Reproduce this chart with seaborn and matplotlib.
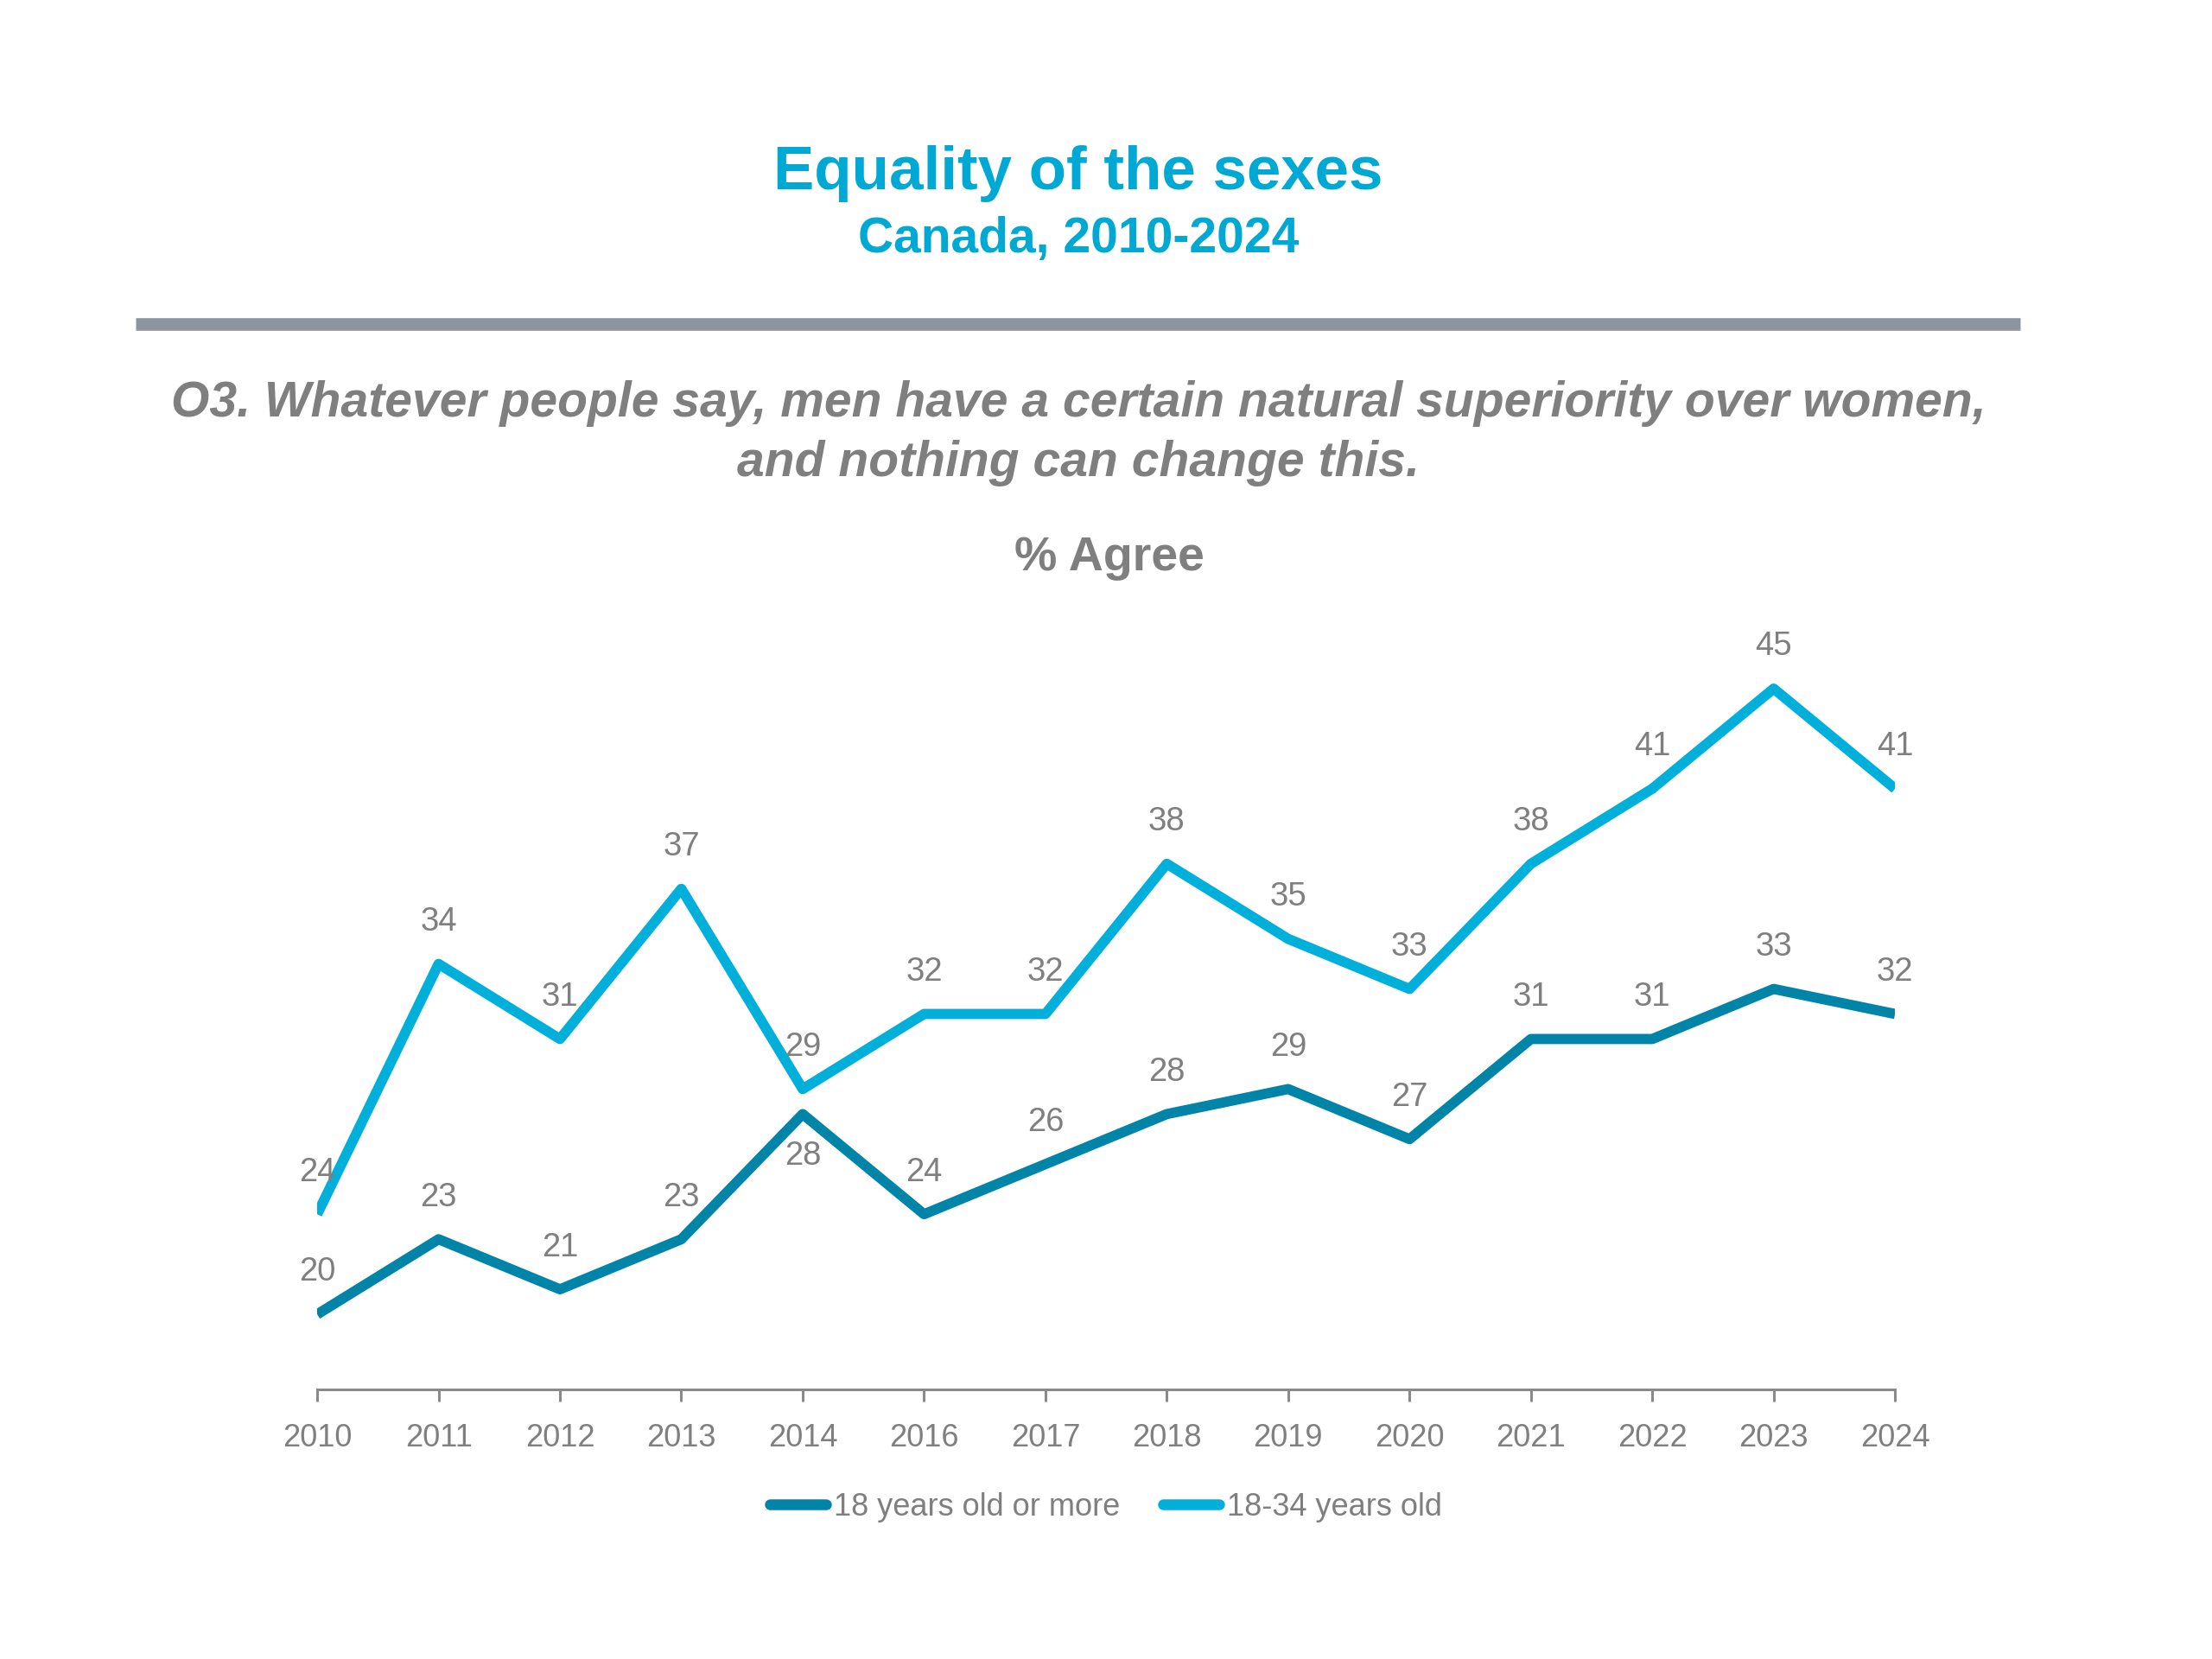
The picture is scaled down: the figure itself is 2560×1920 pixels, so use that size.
import numpy as np
import pandas as pd
import matplotlib
matplotlib.use("Agg")
import matplotlib.pyplot as plt
from matplotlib.lines import Line2D
from matplotlib import font_manager
import seaborn as sns

# ---------------- data ----------------
years = ["2010", "2011", "2012", "2013", "2014", "2016", "2017",
         "2018", "2019", "2020", "2021", "2022", "2023", "2024"]
all_adults = [20, 23, 21, 23, 28, 24, 26, 28, 29, 27, 31, 31, 33, 32]
young_adults = [24, 34, 31, 37, 29, 32, 32, 38, 35, 33, 38, 41, 45, 41]
series_names = ["18 years old or more", "18-34 years old"]

title = "Equality of the sexes"
subtitle = "Canada, 2010-2024"
question_l1 = "O3. Whatever people say, men have a certain natural superiority over women,"
question_l2 = "and nothing can change this."
measure = "% Agree"

# ---------------- style ----------------
DARK = "#0084a8"
LIGHT = "#00b0da"
TITLE_C = "#00a9d4"
GRAY = "#7f7f7f"
SEP = "#8c959f"

sns.set_theme(style="white")
names = {f.name for f in font_manager.fontManager.ttflist}
if "Liberation Sans Narrow" in names:
    NARROW = ["Liberation Sans Narrow", "Liberation Sans", "DejaVu Sans"]
    nsize = 31
    lsize = 33
else:
    NARROW = ["Liberation Sans", "DejaVu Sans"]
    nsize = 26
    lsize = 27.5
plt.rcParams["font.family"] = ["Liberation Sans", "DejaVu Sans"]

df = pd.DataFrame({
    "pos": list(range(len(years))) * 2,
    "value": all_adults + young_adults,
    "series": [series_names[0]] * len(years) + [series_names[1]] * len(years),
})

fig = plt.figure(figsize=(25.6, 19.2), dpi=100)
ax = fig.add_axes([0.1434, 0.1625, 0.7133, 0.4677])

sns.lineplot(data=df, x="pos", y="value", hue="series",
             palette={series_names[0]: DARK, series_names[1]: LIGHT},
             linewidth=8.5, ax=ax, legend=False, sort=False)
for ln in ax.get_lines():
    ln.set_solid_capstyle("butt")
    ln.set_solid_joinstyle("round")

ax.set_xlim(0, len(years) - 1)
ax.set_ylim(17, 48)
ax.set_xticks(range(len(years)))
ax.set_xticklabels(years)
ax.set_yticks([])
ax.set_xlabel("")
ax.set_ylabel("")
for s in ["top", "right", "left"]:
    ax.spines[s].set_visible(False)
ax.spines["bottom"].set_color("#8a8a8a")
ax.spines["bottom"].set_linewidth(2.2)
ax.tick_params(axis="x", which="both", bottom=True, length=10, width=2.2,
               color="#8a8a8a", direction="out", pad=18, labelsize=nsize,
               labelcolor=GRAY)
for lab in ax.get_xticklabels():
    lab.set_fontfamily(NARROW)

# data labels
for i, v in enumerate(young_adults):
    ax.annotate(str(v), (i, v), xytext=(0, 35), textcoords="offset points",
                ha="center", va="center", fontsize=lsize, color=GRAY,
                family=NARROW)
for i, v in enumerate(all_adults):
    dy = -35 if years[i] == "2014" else 35
    ax.annotate(str(v), (i, v), xytext=(0, dy), textcoords="offset points",
                ha="center", va="center", fontsize=lsize, color=GRAY,
                family=NARROW)

# titles
fig.text(0.4875, 0.8955, title, ha="center", va="center", fontsize=51,
         fontweight="bold", color=TITLE_C)
fig.text(0.4875, 0.8555, subtitle, ha="center", va="center", fontsize=41,
         fontweight="bold", color=TITLE_C)
fig.add_artist(Line2D([157 / 2560, 2338 / 2560], [1 - 375 / 1920, 1 - 375 / 1920],
                      transform=fig.transFigure, color=SEP, linewidth=10.5,
                      solid_capstyle="butt"))
fig.text(0.4876, 0.757, question_l1, ha="center", va="center", fontsize=41,
         fontweight="bold", fontstyle="italic", color=GRAY)
fig.text(0.4876, 0.721, question_l2, ha="center", va="center", fontsize=41,
         fontweight="bold", fontstyle="italic", color=GRAY)
fig.text(0.5014, 0.6635, measure, ha="center", va="center", fontsize=40,
         fontweight="bold", color=GRAY)

# legend
handles = [Line2D([0], [0], color=DARK, linewidth=9, solid_capstyle="round"),
           Line2D([0], [0], color=LIGHT, linewidth=9, solid_capstyle="round")]
leg = fig.legend(handles, series_names, loc="center", bbox_to_anchor=(0.5, 1 - 1744 / 1920),
                 ncol=2, frameon=False, handlelength=1.8, handletextpad=0.25,
                 columnspacing=1.4, prop={"family": NARROW, "size": nsize})
for t in leg.get_texts():
    t.set_color(GRAY)

fig.savefig("out.png", dpi=100, facecolor="white")
